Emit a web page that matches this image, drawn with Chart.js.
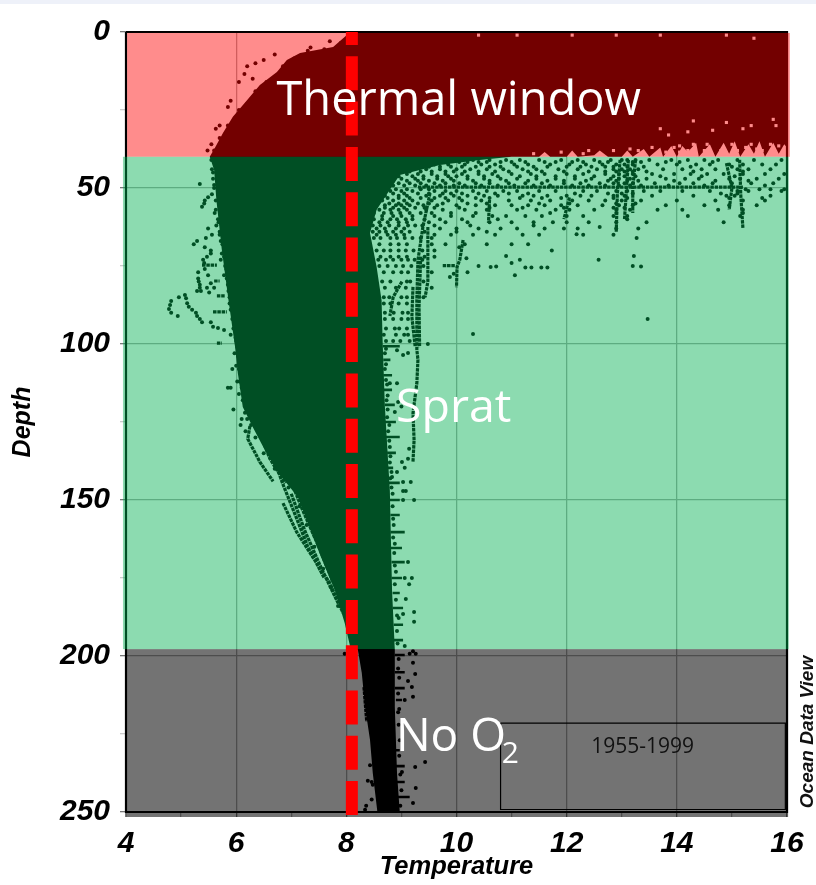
<!DOCTYPE html>
<html><head><meta charset="utf-8">
<style>html,body{margin:0;padding:0;background:#fff}#strip{position:absolute;left:0;top:0;width:816px;height:4px;background:#eef1f9}canvas{position:absolute;left:0;top:0}</style>
<script src="https://cdn.jsdelivr.net/npm/chart.js@4"></script></head>
<body><div id="strip"></div><canvas id="c" width="816" height="885"></canvas>
<script>
const tempLimits=[4,16], depthLimits=[0,250];
const bandThermal=[4.02,16.05,0.3,40];
const bandSprat=[3.945,16.03,40,197.8];
const bandNoO2=[4,16.02,197.8,251.6];
const oxygenLine=[[8.1,0],[8.1,251.6]];
const plotFrame=[[4,0],[16,0],[16,250],[4,250],[4,0]];
const yearsBox=[[10.8,221.5],[15.97,221.5],[15.97,249.2],[10.8,249.2],[10.8,221.5]];
const cloudEdge=[[8.01,0],[8.01,1],[7.76,4.8],[7.16,6.7],[6.92,9],[6.74,12.8],[6.43,17],[6.2,21.8],[5.94,27.2],[5.76,32.4],[5.62,36.9],[5.52,40],[5.6,44.2],[5.64,53.8],[5.74,69.9],[5.86,85.9],[5.98,101],[6.03,109.3],[6.12,120.2],[6.3,126.6],[6.52,134],[6.76,141.3],[7.12,149],[7.3,157.4],[7.54,168.3],[7.79,178.9],[7.97,189.4],[8.07,197],[8.21,198.1],[8.28,205.4],[8.34,216.3],[8.43,226.9],[8.48,237.5],[8.56,249.4],[8.56,250],[8.97,250],[8.92,237.5],[8.88,216.3],[8.88,198],[8.83,179],[8.79,147],[8.7,120],[8.66,99.7],[8.64,86],[8.55,75.3],[8.43,64.4],[8.55,57],[8.79,50.6],[8.97,45.8],[9.7,42.6],[10.42,41],[11,40],[11.5,40],[11.6,38.5],[11.7,40],[12,40],[12.1,38],[12.2,40],[12.5,39.5],[12.6,38],[12.75,40],[13,40],[13.1,38],[13.2,40],[13.4,37.5],[13.5,40],[13.7,37],[13.75,40],[13.9,36.5],[14,40],[14.1,36.5],[14.2,38.5],[14.35,35.5],[14.4,40],[14.6,36],[14.7,40],[14.85,35.5],[14.95,39],[15.05,35],[15.15,40],[15.3,36],[15.4,39],[15.5,35],[15.6,40],[15.75,35.5],[15.85,39],[15.95,36],[16,37],[16,0]];
const strands=[[9.52,51.6],[9.39,62.5],[9.3,73.1],[9.28,85.9],[9.28,101.9],[9.3,105],[9.28,112.6],[9.21,122.2],[9.23,130.8],[9.21,137.8],null,
[9.48,62.5],[9.48,80],[9.43,85],null,[9.01,80],[8.85,85],[8.79,91],null,[9.21,81.7],[9.19,91.3],[9.25,100.9],null,[9.35,72],[9.32,88],[9.33,101],null,
[10.6,53.8],[10.58,61.2],null,[10.12,66.7],[10.06,73],[10.01,75.3],[10,81.8],null,[9.75,74.9],[9.97,74.9],null,
[9.3,49.7],[15.2,49.7],null,[15.14,41],[15.16,52],[15.2,63],null,[12.97,41],[12.92,52],[12.9,64],null,[13.12,41],[13.08,52],[13.05,60],null,[13.25,41],[13.2,50],[13.2,58],null,
[12.05,53],[11.95,60],null,[14.9,42],[15,50],[14.95,57],null,
[6.25,126.3],[6.21,130.4],[6.43,137.8],[6.67,144],null,[6.4,127.2],[6.61,136.7],[6.89,144.7],null,[6.85,151],[7.1,160.3],[7.39,168.3],[7.7,176.6],[7.94,186.2],null,
[6.95,142],[7.2,153],[7.5,165],[7.75,176],null,[6.5,128],[6.85,145],[7.1,156],[7.3,165],[7.6,175],null,[7,148],[7.25,160],[7.55,172],[7.85,183],null,
[5.58,89.7],[5.83,89.7],null,[5.65,84.6],[5.8,84.6],null,[5.38,74.7],[5.65,74.7],null,[5.6,79.8],[5.7,79.8],null,[5.65,99.7],[5.74,99.7],null,[8.32,210],[8.37,221]];
const spikes=[[8.66,100.7],[8.97,100.7],null,[8.67,105.1],[8.8,105.1],null,[8.67,110],[8.83,110],null,[8.68,114.7],[8.83,114.7],null,[8.7,119.5],[8.88,119.5],null,[8.7,125],[8.9,125],null,[8.72,129.8],[8.97,129.8],null,[8.74,134.9],[8.9,134.9],null,[8.75,139.7],[8.85,139.7],null,[8.75,144.5],[8.97,144.5],null,[8.78,150],[8.97,150],null,[8.8,154.8],[8.97,154.8],null,[8.8,160.3],[9.06,160.3],null,[8.8,165.4],[9.01,165.4],null,[8.82,169.9],[9.06,169.9],null,[8.82,175],[9.01,175],null,[8.84,179.8],[8.97,179.8],null,[8.84,184.6],[9.03,184.6],null,[8.86,190],[9.03,190],null,[8.86,194.9],[9.03,194.9],null,[8.88,199.7],[9.06,199.7],null,[8.88,205.2],[9.06,205.2],null,[8.88,210.3],[9.06,210.3],null,[8.9,214.1],[9.01,214.1],null,[8.9,230.2],[8.97,230.2],null,[8.9,235.3],[9.06,235.3],null,[8.92,240.4],[9.06,240.4],null,[8.92,245.2],[9.15,245.2]];
const leftDots=[[5.34,48.7],[5.49,53],[5.43,54],[5.42,55],[5.38,56],[5.49,63],[5.56,65],[5.45,66],[5.29,67],[5.23,68],[5.43,69],[5.54,70],[5.54,71],[5.47,72],[5.4,73],[5.42,74],[5.43,76],[5.31,77],[5.31,79],[5.49,78],[5.32,80],[5.54,80.5],[5.34,81],[5.34,82],[5.29,83],[5.36,83],[5.47,82],[5.51,83.5],[5.6,82],[5.07,84.3],[4.96,85],[5.09,85.3],[5.11,86.9],[4.82,86.2],[4.8,87.5],[4.78,88.8],[4.82,90],[5.14,88.1],[5.2,89],[5.27,90],[5.29,91],[4.94,91],[5.34,92],[5.38,93],[5.54,93],[5.58,94.5],[5.67,94.9],[5.78,95.5],[5.55,41],[5.56,44],[5.58,47],[5.6,50],[5.56,52],[5.63,57],[5.67,60],[5.64,62],[5.7,65],[5.75,68],[5.72,73],[5.82,76],[5.78,78],[5.85,81],[5.92,84],[5.88,87],[5.97,92],[5.9,97],[6,99],[5.97,103],[6,107],[5.93,108],[6.02,112],[6.05,116],[5.85,114],[5.9,114],[5.95,121],[6.1,124],[6.17,128],[6.08,126],
[6.7,7.2],[6.5,9],[6.35,10],[6.2,11],[6.15,13.5],[6.05,16],[6.3,15],[5.9,22],[5.85,24],[5.7,30],[5.63,31],[5.55,36],[5.48,38],[7.3,6],[7.6,5.5],[7.9,3.5],[7.7,3],[7.35,5],
[9.12,102.9],[9.03,103.5],[8.92,102],[8.92,112.6],[8.79,112.6],[8.94,118.6],[9,120],[8.88,121.8],[9.14,133.6],[9.12,136.8],[9.01,137.8],[9.06,139.7],[8.92,141],[8.83,142.6],[9.03,144.2],[9.17,144.2],[9.03,147.1],[9.08,147.1],[9.48,100],[9.23,150],[9.03,150],[9.12,169.9],[9.06,175],[9.19,175],[9.14,177],[9.08,181.7],[9.23,185.9],[9.03,186.5],[8.95,187.8],[9.23,189],[9.06,196.8],
[7.97,199.3],[9.15,199.3],[9.21,198.5],[9.26,199.3],[9.21,202.2],[9.25,205.8],[9.12,208],[9.19,209.9],[9.21,213.1],[9.06,214.1],[8.94,218],[9.43,234],[9.25,235.6],[9.01,237.2],[9.26,242.3],[9.21,247.1],[8.36,248],[8.34,249.3],[8.46,240.4],[8.39,240],[8.48,241.3],[8.43,235],[8.46,246]];
const rightEdgeDots=[[8.72,101.5],[8.7,103],[8.72,106.5],[8.7,108],[8.72,111.5],[8.74,113],[8.75,116.5],[8.73,118],[8.75,121],[8.74,123.5],[8.78,126],[8.76,128],[8.78,131],[8.79,133],[8.8,136],[8.79,138],[8.82,141],[8.8,143],[8.82,146],[8.84,148],[8.84,152],[8.85,156],[8.86,158],[8.85,162],[8.88,164],[8.87,167],[8.88,171],[8.9,173],[8.88,177],[8.9,182],[8.92,187],[8.92,192],[8.93,196],[8.95,201],[8.94,204],[8.96,207],[8.94,212],[8.96,217],[8.95,222],[8.97,227],[8.96,232],[8.98,238],[9,243],[8.98,248]];
const leftEdgeDots=[[5.58,45],[5.6,49],[5.63,54],[5.61,58],[5.68,61],[5.7,64],[5.72,67],[5.74,71],[5.78,72],[5.8,75],[5.83,79],[5.86,83],[5.88,85],[5.9,89],[5.93,92],[5.95,95],[5.99,98],[6.02,101],[6.04,104],[6.05,108],[6.06,112],[6.1,114],[6.12,118],[6.16,122],[6.2,124],[6.27,126],[6.35,130],[6.5,135],[6.7,140],[6.95,146],[7.15,152],[7.28,158],[7.42,165],[7.58,172],[7.72,178],[7.85,184],[7.75,7],[7.5,7],[7.3,8],[7.05,8.5],[6.85,11],[6.7,14.5],[6.55,16],[6.35,19],[6.2,23],[6.05,25],[5.85,30],[5.7,34],[5.6,38]];
const farDots=[[12.18,64.8],[13.27,66],[12.6,62.5],[11.73,70],[10.9,71.8],[11.15,73],[11.25,75.5],[11.36,75.5],[11.54,75.5],[11.65,75.5],[12.58,73],[13.22,71.8],[13.2,75],[13.35,75.2],[13.47,92],[10.3,96.8],[10.4,75],[10.62,75.3],[10.72,75.2],[11,74],[11.06,78],[10.2,77],[9.95,77.5],[9.88,78.5],[10.18,72.5],[10.05,69]];
const rowDepths=[41,42.5,44,45.5,47,48.5,51,52.5,54,55.5,57,59,61,63,65,68];
const rowTemps=[
[9.1,9.5,9.75,9.95,10.3,10.6,10.9,11.15,11.5,11.9,12.2,12.5,12.8,13,13.1,13.25,13.5,13.9,14.2,14.5,14.75,15.1,15.4,15.9],
[9.05,9.35,9.6,9.85,10.15,10.45,10.7,11.05,11.3,11.7,12.05,12.35,12.65,12.9,13.05,13.2,13.65,14,14.35,14.6,14.95,15.2,15.55,15.8],
[8.95,9.2,9.45,9.7,10,10.25,10.55,10.85,11.2,11.45,11.85,12.2,12.55,12.85,13,13.15,13.3,13.75,14.1,14.45,14.7,15.1,15.3,15.7],
[8.9,9.1,9.3,9.55,9.8,10.1,10.4,10.65,11,11.35,11.6,12,12.3,12.7,12.95,13.1,13.2,13.55,13.95,14.25,14.55,14.85,15.2,15.6,15.95],
[8.8,9,9.25,9.4,9.65,9.9,10.2,10.5,10.8,11.1,11.45,11.8,12.15,12.45,12.8,12.95,13.15,13.45,13.8,14.15,14.4,14.95,15.15,15.45,15.85],
[8.75,8.95,9.15,9.35,9.6,9.8,10.05,10.35,10.6,10.95,11.25,11.55,11.95,12.25,12.6,12.85,13.05,13.2,13.6,14.05,14.3,14.65,15,15.35,15.75],
[8.8,9,9.2,9.6,9.8,10,10.3,10.55,10.85,11.1,11.5,11.8,12.3,12.55,12.9,13.1,13.4,13.7,14.1,14.6,15.1,15.3,15.9],
[8.7,8.95,9.1,9.45,9.7,9.95,10.2,10.5,10.75,11.2,11.4,11.65,12,12.25,12.45,12.85,13.05,13.55,14.3,14.9,15.05,15.7],
[8.65,8.85,9.05,9.2,9.55,9.85,10.1,10.45,10.95,11.35,11.7,12.1,12.4,12.7,13,13.35,14,14.7,15.2,15.6],
[8.7,8.9,9,9.15,9.4,9.65,10,10.35,10.7,11,11.3,11.6,11.9,12.2,12.65,12.95,13.2,13.8,14.5,14.95,15.45],
[8.6,8.8,8.95,9.1,9.45,9.75,10.15,10.55,11.1,11.45,11.8,12.05,12.5,12.9,13.15,13.65,14.1,14.75,15.2],
[8.65,8.85,9,9.2,9.6,9.9,10.3,10.65,10.9,11.25,11.55,12,12.3,12.85,13.1,14.2,15.15],
[8.6,8.75,8.95,9.1,9.5,9.8,10.2,10.6,11,11.4,11.75,12,12.4,12.9,13.45,14.85],
[8.55,8.7,8.9,9.05,9.7,10,10.4,10.8,11.1,11.6,11.95,12.2,12.9,13.3],
[8.55,8.75,8.9,9.05,9.6,9.9,10.3,10.7,11.2,11.5,12.3,12.85],
[8.6,8.8,8.95,9.1,9.55,9.8,10.15,10.55,11,11.3]];
const denseDepths=[41.7,43.2,44.7,46.2,47.7,49.2,50.4,51.8,53.2,55,56.3,58,60,62,64,66,70,73];
const denseTemps=[
[9.2,9.4,9.65,9.85,10.05,10.2,10.4,10.55,10.8,11,11.25,11.6,11.8,12.1,12.3,12.6,12.75,13.2,13.35,13.8,14.05,14.65],
[8.9,9.1,9.3,9.5,9.7,9.9,10.1,10.35,10.6,10.8,11.1,11.4,11.65,12,12.25,12.45,12.7,12.85,13.1,13.4,14.25,15],
[8.85,9,9.15,9.35,9.55,9.8,9.95,10.15,10.4,10.7,10.95,11.3,11.55,11.95,12.4,12.7,12.9,13.05,13.2,13.45,14.3,15.2],
[8.75,8.95,9.2,9.4,9.65,9.85,10,10.2,10.5,10.75,11.15,11.45,11.8,12.15,12.5,12.85,13.05,13.25,13.7,14.45,15.05],
[8.68,8.85,9.1,9.3,9.5,9.75,9.95,10.3,10.6,10.9,11.3,11.65,11.95,12.35,12.75,12.9,13.1,13.3,13.95,14.7,15.3],
[8.62,8.85,9.05,9.25,9.45,9.7,9.95,10.15,10.45,10.75,11.05,11.4,11.7,12.1,12.4,12.7,12.95,13.15,13.35,13.85,14.5,15.6],
[8.6,8.75,8.9,9.1,9.35,9.5,15.25,15.5,15.7,15.95],
[8.62,8.85,9.05,9.3,9.5,9.75,9.9,10.1,10.4,10.7,10.95,11.3,12.15,12.75,13,13.2,14.8,15.1],
[8.58,8.75,8.95,9.15,9.35,9.6,9.8,10.05,10.35,10.6,11.15,11.55,11.9,12.85,13.1,14.95,15.55],
[8.55,8.78,8.95,9.1,9.3,9.5,9.75,10.2,10.55,11.5,12.05,12.9,13.25],
[8.52,8.7,8.85,9.05,9.25,9.42,9.6,10.05,10.6,11.2,11.95,12.85,13.05],
[8.5,8.68,8.82,8.98,9.15,9.35,9.55,9.9,10.35,11.7,12.9,15.2],
[8.5,8.65,8.8,8.92,9.08,9.2,9.42,9.7,10.1,10.75,13.1],
[8.48,8.62,8.78,8.95,9.12,9.25,9.38,9.6,10.25,11.4],
[8.48,8.6,8.72,8.85,9,9.15,9.42,10,10.55],
[8.5,8.62,8.8,8.92,9.06,9.2,9.35,9.55],
[8.55,8.68,8.8,8.95,9.08,9.22,9.38,9.6],
[8.58,8.72,8.85,9,9.12,9.24,9.38]];
const innerDepths=[72,75,77,80,82,85,87,90,92,95,97,99];
const innerTemps=[[8.62,8.8,8.95,9.1,9.42,9.6],[8.6,8.75,8.9,9.03,9.18,9.4],[8.68,8.85,9,9.12,9.55],[8.65,8.8,9.1,9.16,9.4],[8.7,8.9,9.08,9.55],[8.68,8.78,9,9.1,9.4],[8.68,8.8,8.95,9.1],[8.7,8.86,9.02,9.12],[8.7,8.85,9,9.12],[8.72,8.88,8.96,9.1],[8.68,8.9,9.05,9.12],[8.72,8.85,8.98,9.15]];
const cloudHoles=[[13.15,37.5],[13.3,38],[13.55,37],[13.8,38.5],[13.95,37],[14.05,36.5],[14.05,38.5],[14.2,38],[14.3,36],[14.5,38],[14.55,36],[14.8,38],[15,36],[15.1,38],[15.25,37],[15.35,36],[15.45,37.5],[15.55,38],[15.7,36],[15.85,36.5],[12.85,38],[12.4,38],[12.3,39],[11.9,38.5],[11.4,39],[13.7,31],[14.2,32],[14.9,29],[15.35,30],[15.8,30],[15.2,31],[15.75,28],[14.3,28.5],[13.85,33],[14.65,31.5],
[10.4,1],[11.1,1],[12.1,1],[12.9,1],[13.7,1],[14.9,1],[15.4,2]];
const xTickLabels=[4,6,8,10,12,14,16];
const yTickLabels=[0,50,100,150,200,250];
const pts=a=>a.map(p=>p?{x:p[0],y:p[1]}:{x:NaN,y:NaN});
const rows=(ds,ts)=>ds.flatMap((d,i)=>ts[i].map(t=>({x:t,y:d})));
const line=(label,data,color,width,order,extra)=>Object.assign({type:'line',label,data,borderColor:color,borderWidth:width,order,pointRadius:0,fill:false,clip:false,tension:0,spanGaps:false},extra||{});
const dotSet=(label,data,order)=>({type:'line',label,data,showLine:false,order,pointRadius:2,pointBorderWidth:0,pointBackgroundColor:'#000',clip:false});
const bandsPlugin={id:'bands',beforeDatasetDraw(chart,args){
  if(chart.data.datasets[args.index].label!=='Oxygen limit')return;
  const {x,y}=chart.scales,c=chart.ctx;c.save();
  [[bandThermal,'rgba(255,0,0,.45)'],[bandSprat,'rgba(0,176,80,.45)'],[bandNoO2,'rgba(0,0,0,.55)']].forEach(([b,col])=>{
    c.fillStyle=col;const l=x.getPixelForValue(b[0]),r=x.getPixelForValue(b[1]),t=y.getPixelForValue(b[2]),u=y.getPixelForValue(b[3]);c.fillRect(l,t,r-l,u-t);});
  c.restore();}};
const labelsPlugin={id:'labels',afterDatasetsDraw(chart){
  const {x,y}=chart.scales,c=chart.ctx;c.save();c.textBaseline='alphabetic';
  c.fillStyle='#fff';c.font='400 47px "Open Sans"';c.textAlign='center';
  c.fillText('Thermal window',x.getPixelForValue(10.04),y.getPixelForValue(26.6));
  c.font='400 46.5px "Open Sans"';c.fillText('Sprat',x.getPixelForValue(9.95),y.getPixelForValue(125));
  c.textAlign='left';c.font='400 46px "Open Sans"';
  c.fillText('No O',x.getPixelForValue(8.9),y.getPixelForValue(230.4));
  c.font='400 30px "Open Sans"';c.fillText('2',x.getPixelForValue(10.82),y.getPixelForValue(234.3));
  c.fillStyle='#111';c.font='21px "Open Sans"';c.textAlign='center';
  c.fillText('1955-1999',x.getPixelForValue(13.38),y.getPixelForValue(231));
  c.translate(813,732);c.rotate(-Math.PI/2);c.fillStyle='#111';c.font='italic bold 19px "Liberation Sans"';
  c.fillText('Ocean Data View',0,0);c.restore();}};
new Chart(document.getElementById('c'),{
  data:{datasets:[
    line('Frame',pts(plotFrame),'#000',2.2,20),
    line('Cloud',pts(cloudEdge),'#000',0,12,{fill:'shape',backgroundColor:'#000'}),
    line('Strands',pts(strands),'#000',3.2,11,{borderDash:[3.5,0.8]}),
    line('Spikes',pts(spikes),'#000',2.6,10),
    dotSet('Edge dots',pts(leftDots),9),
    dotSet('Far dots',pts(farDots),8),
    dotSet('Row dots',rows(rowDepths,rowTemps),7),
    dotSet('Inner dots',rows(innerDepths,innerTemps),6),
    dotSet('Dense dots',rows(denseDepths,denseTemps),6),
    dotSet('Right edge',pts(rightEdgeDots),6),
    dotSet('Left edge',pts(leftEdgeDots),6),
    {type:'line',label:'Holes',data:pts(cloudHoles),showLine:false,order:5,pointStyle:'rect',pointRadius:2.2,pointBorderWidth:0,pointBackgroundColor:'#fff',clip:false},
    line('Years box',pts(yearsBox),'#000',1.2,4),
    line('Oxygen limit',pts(oxygenLine),'#ff0000',12,1,{borderDash:[34,11.3],borderDashOffset:21})
  ]},
  plugins:[bandsPlugin,labelsPlugin],
  options:{responsive:false,animation:false,events:[],
    layout:{padding:{top:32,right:29,left:0,bottom:0}},
    plugins:{legend:{display:false},tooltip:{enabled:false}},
    scales:{
      x:{type:'linear',min:tempLimits[0],max:tempLimits[1],afterFit:s=>{s.height=73},
        ticks:{stepSize:1,autoSkip:false,maxRotation:0,padding:9,color:'#000',font:{family:'"Liberation Sans"',style:'italic',weight:'bold',size:30},
          callback:v=>xTickLabels.includes(v)?String(v):''},
        grid:{color:c=>xTickLabels.includes(c.tick&&c.tick.value)?'#aaaaaa':'transparent',tickColor:c=>xTickLabels.includes(c.tick&&c.tick.value)?'#777':'#aaa',lineWidth:1.3,tickLength:5},
        border:{display:false},
        title:{display:true,text:'Temperature',color:'#000',padding:{top:0,bottom:3},font:{family:'"Liberation Sans"',style:'italic',weight:'bold',size:25.5}}},
      y:{type:'linear',reverse:true,min:depthLimits[0],max:depthLimits[1],afterFit:s=>{s.width=126},
        ticks:{stepSize:25,autoSkip:false,padding:10,color:'#000',font:{family:'"Liberation Sans"',style:'italic',weight:'bold',size:30},
          callback:v=>yTickLabels.includes(v)?String(v):''},
        grid:{color:c=>yTickLabels.includes(c.tick&&c.tick.value)?'#aaaaaa':'transparent',tickColor:c=>yTickLabels.includes(c.tick&&c.tick.value)?'#777':'#ccc',lineWidth:1.3,tickLength:6},
        border:{display:false},
        title:{display:true,text:'Depth',color:'#000',padding:{top:8,bottom:0},font:{family:'"Liberation Sans"',style:'italic',weight:'bold',size:25}}}
    }}
});
</script></body></html>
